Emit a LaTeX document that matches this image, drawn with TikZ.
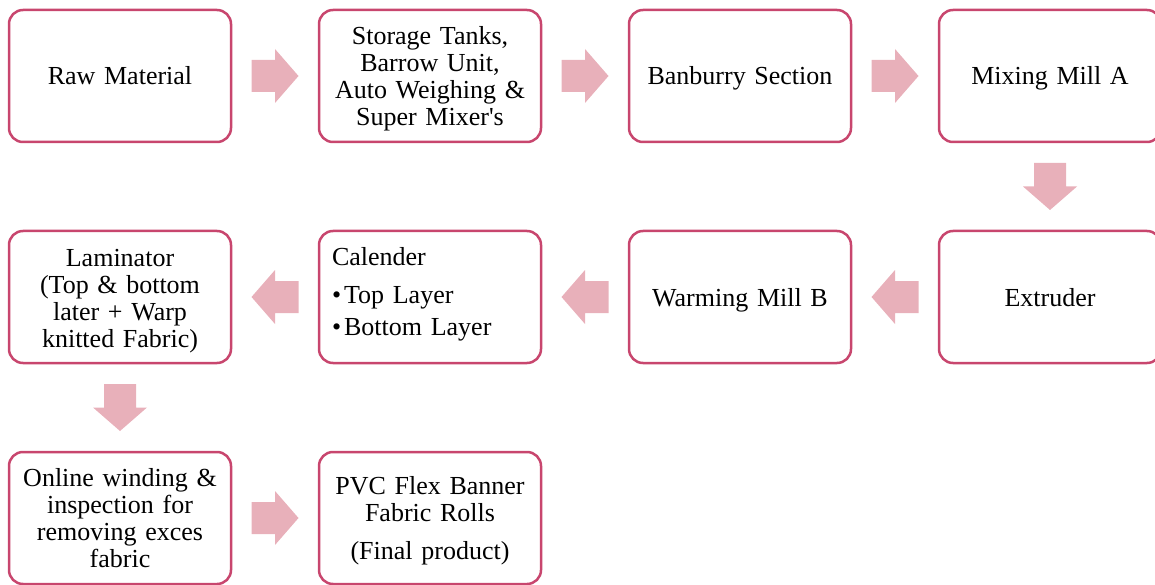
\documentclass[tikz,border=0pt]{standalone}
\usepackage{fontspec}
\setmainfont{Liberation Serif}
\usetikzlibrary{calc}
\definecolor{boxline}{RGB}{200,70,110}
\definecolor{arrowfill}{RGB}{232,176,186}
\tikzset{
  box/.style={draw=boxline, line width=2.5pt, rounded corners=14pt, fill=white,
    minimum width=222pt, minimum height=132pt, inner xsep=6pt, text width=210pt,
    align=center, font=\fontsize{26}{27}\selectfont},
  single/.style={text height=22pt, text depth=4pt},
  blockarrow/.pic={\fill[arrowfill] (-23.5,-16) -- (0,-16) -- (0,-27) -- (23.5,0) -- (0,27) -- (0,16) -- (-23.5,16) -- cycle;}
}
\begin{document}
\begin{tikzpicture}[x=1pt,y=-1pt]
\useasboundingbox (0,0) rectangle (1155,585);
% row 1
\node[box, single] (raw) at (120,76) {Raw Material};
\node[box] (stor) at (430,76) {\rule{0pt}{24pt}Storage Tanks,\\Barrow Unit,\\Auto Weighing \&\\Super Mixer\textquotesingle s};
\node[box, single] (banb) at (740,76) {Banburry Section};
\node[box, single] (mixa) at (1050,76) {Mixing Mill A};
% row 2
\node[box, single] (extr) at (1050,297) {Extruder};
\node[box, single] (warm) at (740,297) {Warming Mill B};
\node[box, inner xsep=13pt, text width=196pt, align=left] (cal) at (430,297) {Calender\\[11pt]\textbullet\hspace{3pt}Top Layer\\[5pt]\textbullet\hspace{3pt}Bottom Layer\rule[-10.5pt]{0pt}{0pt}};
\node[box] (lam) at (120,297) {\rule{0pt}{26pt}Laminator\\(Top \& bottom\\later + Warp\\knitted Fabric)};
% row 3
\node[box] (wind) at (120,518) {Online winding \&\\inspection for\\removing exces\\fabric};
\node[box] (pvc) at (430,518) {\rule{0pt}{23pt}PVC Flex Banner\\Fabric Rolls\\[11pt](Final product)};
% arrows
\path ($(raw.east)!0.5!(stor.west)$) pic {blockarrow};
\path ($(stor.east)!0.5!(banb.west)$) pic {blockarrow};
\path ($(banb.east)!0.5!(mixa.west)$) pic {blockarrow};
\path ($(mixa.south)!0.5!(extr.north)$) pic[rotate=-90] {blockarrow};
\path ($(extr.west)!0.5!(warm.east)$) pic[rotate=180] {blockarrow};
\path ($(warm.west)!0.5!(cal.east)$) pic[rotate=180] {blockarrow};
\path ($(cal.west)!0.5!(lam.east)$) pic[rotate=180] {blockarrow};
\path ($(lam.south)!0.5!(wind.north)$) pic[rotate=-90] {blockarrow};
\path ($(wind.east)!0.5!(pvc.west)$) pic {blockarrow};
\end{tikzpicture}
\end{document}
